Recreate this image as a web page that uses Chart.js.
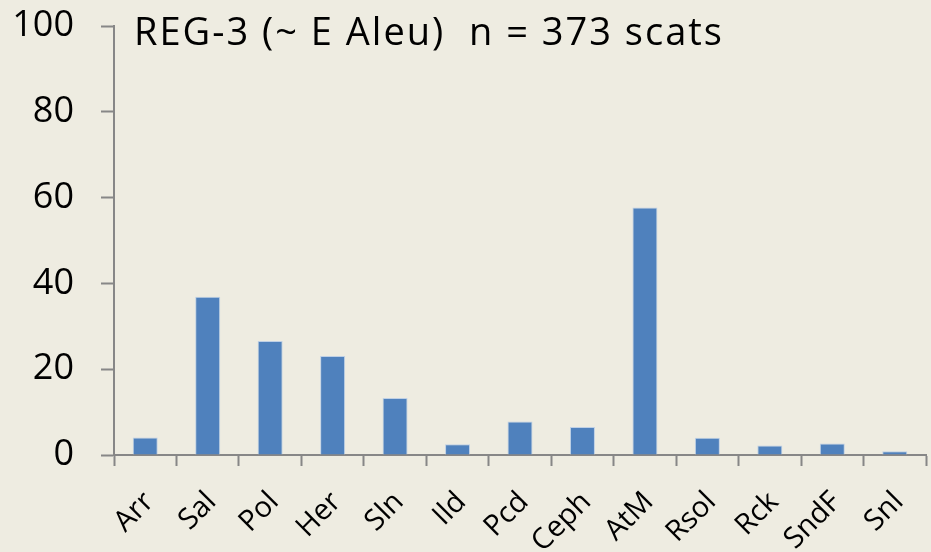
<!DOCTYPE html>
<html>
<head>
<meta charset="utf-8">
<script src="https://cdn.jsdelivr.net/npm/chart.js@4/dist/chart.umd.min.js"></script>
<style>
  html, body { margin: 0; padding: 0; background: #EEECE1; }
  #wrap { width: 931px; height: 552px; }
</style>
</head>
<body>
<div id="wrap"><canvas id="chart_reg3"></canvas></div>
<script>
// prey categories and % of scats
const categories = ['Arr', 'Sal', 'Pol', 'Her', 'Sln', 'Ild', 'Pcd', 'Ceph', 'AtM', 'Rsol', 'Rck', 'SndF', 'Snl'];
const percentValues = [4.1, 36.9, 26.6, 23.1, 13.3, 2.5, 7.8, 6.5, 57.7, 4.0, 2.2, 2.7, 0.9];
const yTicks = [0, 20, 40, 60, 80, 100];
const titleText = 'REG-3 (~ E Aleu)  n = 373 scats';

const axisGray = '#878787';

// title is drawn inside the plot area, top left
const titlePlugin = {
  id: 'insideTitle',
  afterDraw(chart) {
    const ctx = chart.ctx;
    ctx.save();
    ctx.font = '38px "Open Sans"';
    ctx.letterSpacing = '2px';
    ctx.fillStyle = '#000';
    ctx.textBaseline = 'alphabetic';
    ctx.textAlign = 'left';
    ctx.fillText(titleText, 134, 45, 590);
    ctx.restore();
  }
};

const ctx = document.getElementById('chart_reg3').getContext('2d');
new Chart(ctx, {
  type: 'bar',
  data: {
    labels: categories,
    datasets: [{
      data: percentValues,
      backgroundColor: '#4F81BD',
      borderColor: 'rgba(185, 205, 229, 0.9)',
      borderWidth: 1,
      barPercentage: 0.4,
      categoryPercentage: 1.0
    }]
  },
  options: {
    responsive: true,
    maintainAspectRatio: false,
    animation: false,
    layout: { padding: { top: 26, right: 5, left: 0, bottom: 0 } },
    plugins: {
      legend: { display: false },
      tooltip: { enabled: false }
    },
    scales: {
      x: {
        offset: true,
        grid: {
          offset: true,
          drawOnChartArea: false,
          drawTicks: true,
          tickLength: 11,
          tickWidth: 2,
          tickColor: axisGray
        },
        border: { display: true, color: axisGray, width: 2 },
        ticks: {
          autoSkip: false,
          maxRotation: 45,
          minRotation: 45,
          padding: 19,
          labelOffset: 4,
          color: '#000',
          font: { family: 'Open Sans', size: 29 }
        },
        afterFit(scale) {
          scale.height = 97;
          scale.paddingLeft = 0;
          scale.paddingRight = 0;
        }
      },
      y: {
        min: 0,
        max: 100,
        afterBuildTicks(scale) { scale.ticks = yTicks.map(v => ({ value: v })); },
        grid: {
          drawOnChartArea: false,
          drawTicks: true,
          tickLength: 13,
          tickWidth: 2,
          tickColor: axisGray
        },
        border: { display: true, color: axisGray, width: 2 },
        ticks: {
          padding: 27,
          color: '#000',
          font: { family: 'Open Sans', size: 36 }
        },
        afterFit(scale) {
          scale.width = 114;
          scale.paddingTop = 0;
          scale.paddingBottom = 0;
        }
      }
    }
  },
  plugins: [titlePlugin]
});
</script>
</body>
</html>
